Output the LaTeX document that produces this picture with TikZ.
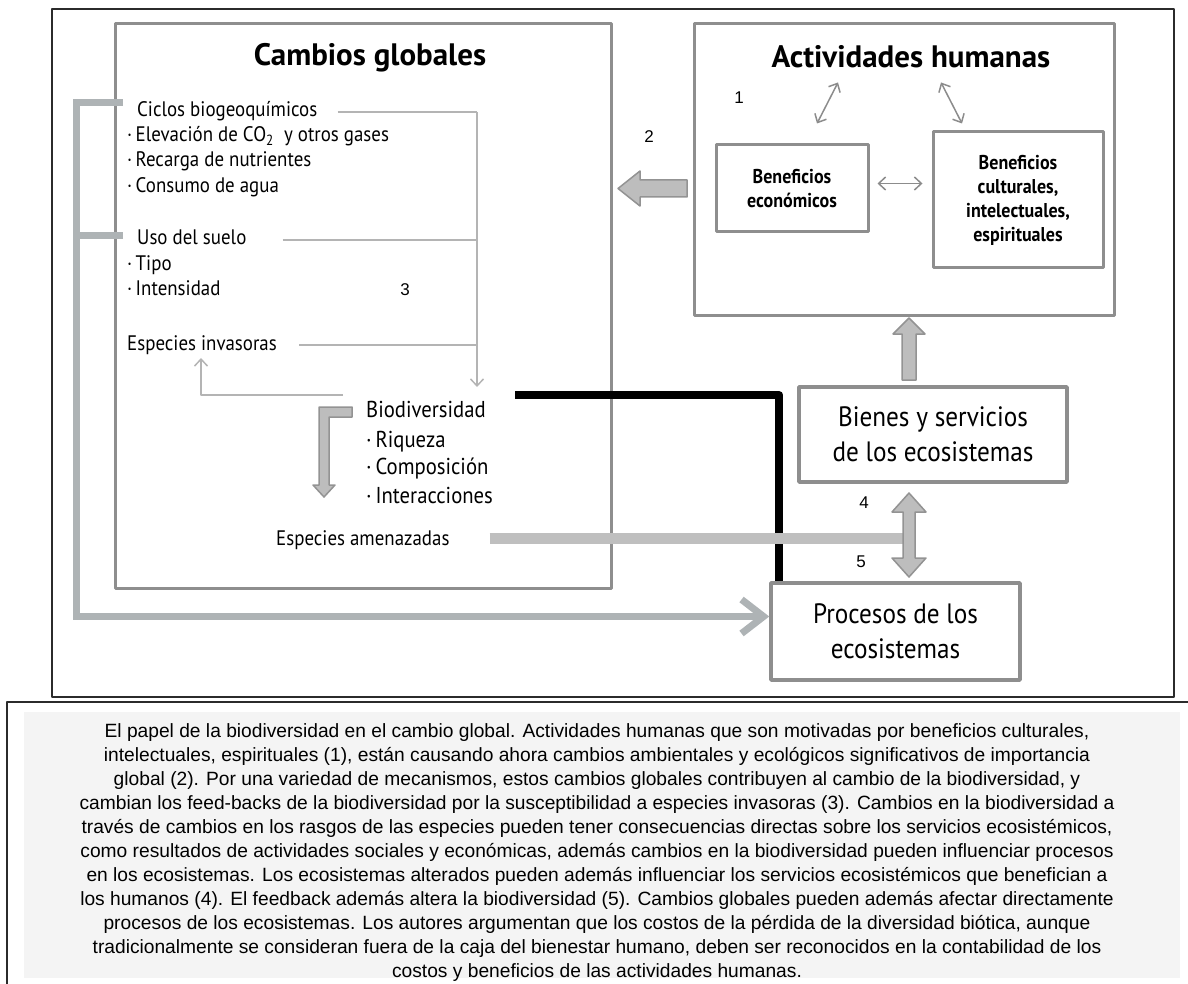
\documentclass[tikz,border=0pt]{standalone}
\usepackage{fontspec}
\newfontfamily\diafont[FakeStretch=0.9]{PT Sans}
\newfontfamily\titlefont{PT Sans}
\newfontfamily\capfont{Liberation Sans}
\usetikzlibrary{arrows.meta,calc}
\definecolor{boxgray}{HTML}{8E8E8E}
\definecolor{linegray}{HTML}{B4B4B4}
\definecolor{arrowgray}{HTML}{8C8C8C}
\definecolor{fillgray}{HTML}{BDBDBD}
\definecolor{edgegray}{HTML}{939393}
\definecolor{bracketgray}{HTML}{AEB3B5}
\definecolor{flatgray}{HTML}{BFBFBF}
\definecolor{framecol}{HTML}{2B2B2B}
\definecolor{capgray}{HTML}{F4F4F4}
\begin{document}
\begin{tikzpicture}[x=1pt, y=-1pt, line join=round,
    bigbox/.style={draw=boxgray, line width=3pt, inner sep=0pt},
    smallbox/.style={draw=boxgray, line width=3pt, align=center, inner sep=0pt,
      font=\diafont\bfseries\fontsize{20}{24}\selectfont},
    ecobox/.style={draw=boxgray, line width=3.5pt, align=center, inner sep=0pt,
      font=\diafont\fontsize{28}{35}\selectfont},
    heading/.style={inner sep=0pt, font=\titlefont\bfseries\fontsize{31}{36}\selectfont},
    item/.style={anchor=west, inner sep=0pt, text height=15pt, text depth=5pt,
      font=\diafont\fontsize{21}{25}\selectfont},
    bioitem/.style={anchor=west, inner sep=0pt, text height=16pt, text depth=6pt,
      font=\diafont\fontsize{23}{28}\selectfont},
    num/.style={inner sep=0pt, font=\capfont\fontsize{17}{20}\selectfont},
    thinline/.style={draw=linegray, line width=1.5pt},
    thinarrow/.style={draw=arrowgray, line width=1.5pt, line cap=round,
      {Straight Barb[length=7pt,width=13pt]}-{Straight Barb[length=7pt,width=13pt]}},
    blockarrow/.style={fill=fillgray, draw=edgegray, line width=1.5pt},
    bracket/.style={draw=bracketgray, line width=7pt, line cap=butt, line join=miter}]

    \useasboundingbox (0,0) rectangle (1188,984);

    % frame and caption
    \draw[framecol, line width=1.5pt] (52,9) rectangle (1174,697);
    \fill[capgray] (24,712) rectangle (1180,978);
    \draw[framecol, line width=2pt] (7,984) -- (7,702) -- (1188,702);
    \node[align=center, inner sep=0pt, font=\capfont\fontsize{19.2}{24}\selectfont] (caption) at (597,853) {%
      El papel de la biodiversidad en el cambio global. Actividades humanas que son motivadas por beneficios culturales,\\
      intelectuales, espirituales (1), están causando ahora cambios ambientales y ecológicos significativos de importancia\\
      global (2). Por una variedad de mecanismos, estos cambios globales contribuyen al cambio de la biodiversidad, y\\
      cambian los feed-backs de la biodiversidad por la susceptibilidad a especies invasoras (3). Cambios en la biodiversidad a\\
      través de cambios en los rasgos de las especies pueden tener consecuencias directas sobre los servicios ecosistémicos,\\
      como resultados de actividades sociales y económicas, además cambios en la biodiversidad pueden influenciar procesos\\
      en los ecosistemas. Los ecosistemas alterados pueden además influenciar los servicios ecosistémicos que benefician a\\
      los humanos (4). El feedback además altera la biodiversidad (5). Cambios globales pueden además afectar directamente\\
      procesos de los ecosistemas. Los autores argumentan que los costos de la pérdida de la diversidad biótica, aunque\\
      tradicionalmente se consideran fuera de la caja del bienestar humano, deben ser reconocidos en la contabilidad de los\\
      costos y beneficios de las actividades humanas.};

    % boxes
    \node[bigbox, minimum width=496pt, minimum height=564pt] (cambios) at (363,306) {};
    \node[heading] (cgtitle) at (370,58) {Cambios globales};
    \node[bigbox, minimum width=420pt, minimum height=291pt] (activ) at (904,169.5) {};
    \node[heading] (ahtitle) at (911,57) {Actividades humanas};
    \node[smallbox, minimum width=152pt, minimum height=87pt] (econ) at (792,188.5) {Beneficios\\económicos};
    \node[smallbox, minimum width=170pt, minimum height=136pt] (cult) at (1018,200) {Beneficios\\culturales,\\intelectuales,\\espirituales};
    \node[ecobox, minimum width=268pt, minimum height=95pt] (bienes) at (933,434.5) {Bienes y servicios\\de los ecosistemas};
    \node[ecobox, minimum width=249pt, minimum height=97pt] (procesos) at (895.5,631.5) {Procesos de los\\ecosistemas};

    % lists
    \node[item] (ciclos) at (137,112) {Ciclos biogeoquímicos};
    \node[item] (co2) at (127,137) {·\,Elevación de CO\textsubscript{2}\ \ y otros gases};
    \node[item] (recarga) at (127,162) {·\,Recarga de nutrientes};
    \node[item] (agua) at (127,188) {·\,Consumo de agua};
    \node[item] (uso) at (137,240) {Uso del suelo};
    \node[item] (tipo) at (127,266) {·\,Tipo};
    \node[item] (intens) at (127,290) {·\,Intensidad};
    \node[item] (invasoras) at (127,345) {Especies invasoras};
    \node[bioitem] (biodiv) at (366,412) {Biodiversidad};
    \node[bioitem] (riqueza) at (366,442) {·\,Riqueza};
    \node[bioitem] (compos) at (366,469) {·\,Composición};
    \node[bioitem] (interac) at (366,498) {·\,Interacciones};
    \node[item] (amenaz) at (276,540) {Especies amenazadas};

    \node[num] (n1) at (739,98) {1};
    \node[num] (n2) at (649,137) {2};
    \node[num] (n3) at (405,290) {3};
    \node[num] (n4) at (864,503) {4};
    \node[num] (n5) at (861,562) {5};

    % thin connectors
    \coordinate (trunk) at (477,113);
    \coordinate (trunkend) at (477,387);
    \coordinate (fbstart) at (343,395);
    \coordinate (fbend) at (201,358);
    \draw[thinline] ($(ciclos.east)+(20,0)$) -- (ciclos.east -| trunk);
    \draw[thinline] ($(uso.east)+(36,0)$) -- (uso.east -| trunk);
    \draw[thinline] ($(invasoras.east)+(22,0)$) -- (invasoras.east -| trunk);
    \draw[thinline, -{Straight Barb[length=7pt,width=13pt]}] (ciclos.east -| trunk) -- (trunkend);
    \draw[thinline, -{Straight Barb[length=7pt,width=13pt]}] (fbstart) -| (fbend);

    \draw[thinarrow] ($(ahtitle.south)+(-73,14)$) -- ($(econ.north)+(25,-20)$);
    \draw[thinarrow] ($(ahtitle.south)+(30,14)$) -- ($(cult.north)+(-56,-7)$);
    \draw[thinarrow] ($(econ.east)+(8,-5)$) -- ($(econ.east -| cult.west)+(-9,-5)$);

    % bracket to procesos
    \coordinate (brtop) at (123,103);
    \coordinate (brmid) at (123,236);
    \draw[bracket, -{Straight Barb[length=22pt,width=34pt]}] (brtop) -- ++(-47,0) |- ($(procesos.west)+(0,-15)$);
    \draw[bracket] (brmid) -- ++(-47,0);

    % black link
    \coordinate (blackstart) at (515,395);
    \draw[line width=8pt] (blackstart) -| ($(procesos.north west)+(10,0)$);

    % especies amenazadas
    \draw[flatgray, line width=11pt] ($(amenaz.east)+(40,-2)$) -- (903,538);

    % block arrows
    \filldraw[blockarrow] (687,180) -- (640,180) -- (640,171) -- (618,188.5)
      -- (640,206) -- (640,197) -- (687,197) -- cycle;
    \filldraw[blockarrow] (902,380) -- (902,334) -- (893,334) -- (909,318)
      -- (925,334) -- (916,334) -- (916,380) -- cycle;
    \filldraw[blockarrow] (909,493) -- (926,512) -- (915,512) -- (915,558) -- (926,558)
      -- (909,577) -- (892,558) -- (903,558) -- (903,512) -- (892,512) -- cycle;
    \filldraw[blockarrow] (352,407) -- (319,407) -- (319,485) -- (313,485) -- (324,497)
      -- (335,485) -- (329,485) -- (329,417) -- (352,417) -- cycle;

\end{tikzpicture}
\end{document}
